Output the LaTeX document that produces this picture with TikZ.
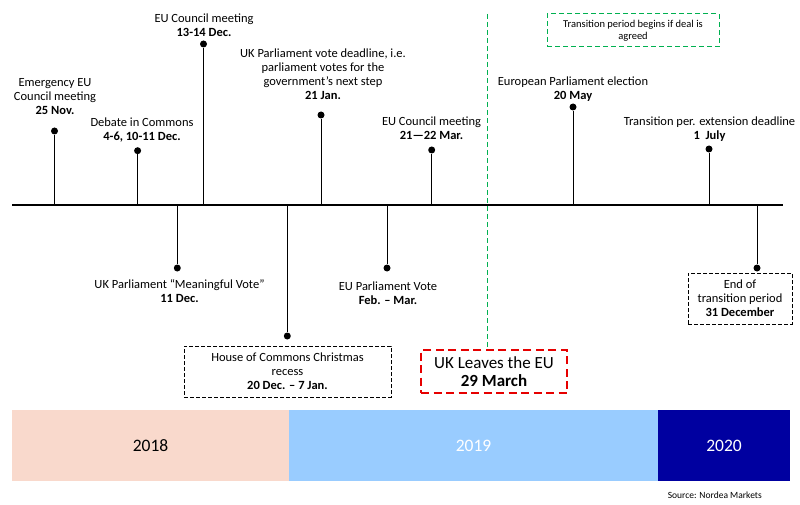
\documentclass[tikz,border=0pt]{standalone}
\usepackage{fontspec}
\setmainfont{Carlito}
\usepackage{tikz}
\usetikzlibrary{positioning}
\definecolor{year18}{RGB}{249,217,204}
\definecolor{year19}{RGB}{153,204,255}
\definecolor{year20}{RGB}{0,0,160}
\definecolor{splitgreen}{RGB}{0,176,80}
\definecolor{leavered}{RGB}{230,0,0}

\begin{document}
\begin{tikzpicture}[
    x=1pt, y=-1pt,
    lbl/.style={align=center, inner sep=0pt, font=\fontsize{12.5}{14}\selectfont},
    dot/.style={circle, fill=black, inner sep=0pt, minimum size=7pt},
    stem/.style={line width=1pt},
    dashbox/.style={draw, dash pattern=on 4pt off 2pt, line width=1pt, align=center, inner sep=0pt, font=\fontsize{12.5}{14}\selectfont},
    yearbox/.style={minimum height=71pt, inner sep=0pt, font=\fontsize{17.5}{20}\selectfont}
]
    \useasboundingbox (0,0) rectangle (800,505);

    \coordinate (axL) at (12,205);
    \coordinate (axR) at (783,205);
    \draw[line width=1.3pt] (axL) -- (axR);

    \foreach \n/\x/\y in {dnov/54.5/131, ddeb/137.6/150.7, dcou/203.5/44, djan/321/115, dmar/431.7/150,
                          dmay/573/107, djul/709/149, dmv/177.3/268, drec/287.3/336, dfeb/387/268, dend/757/268} {
        \node[dot] (\n) at (\x,\y) {};
        \draw[stem] (axL -| \n) -- (\n);
    }

    \node[lbl] (lnov) at (55,96.5) {Emergency EU\\Council meeting\\\textbf{25 Nov.}};
    \node[lbl] (ldeb) at (142,130) {Debate in Commons\\\textbf{4-6, 10-11 Dec.}};
    \node[lbl] (lcou) at (204,25) {EU Council meeting\\\textbf{13-14 Dec.}};
    \node[lbl] (ljan) at (323,74) {UK Parliament vote deadline, i.e.\\parliament votes for the\\government’s next step\\\textbf{21 Jan.}};
    \node[lbl] (lmar) at (431.5,128) {EU Council meeting\\\textbf{21---22 Mar.}};
    \node[lbl] (lmay) at (573,89) {European Parliament election\\\textbf{20 May}};
    \node[lbl] (ljul) at (709.5,129) {Transition per. extension deadline\\\textbf{1\ \ July}};
    \node[lbl] (lmv) at (179.5,291) {UK Parliament “Meaningful Vote”\\\textbf{11 Dec.}};
    \node[lbl] (lfeb) at (388,293) {EU Parliament Vote\\\textbf{Feb. -- Mar.}};

    \node[dashbox, minimum width=207pt, minimum height=51pt] (recess) at (287.5,371.5) {House of Commons Christmas\\recess\\\textbf{20 Dec. -- 7 Jan.}};
    \node[dashbox, minimum width=104pt, minimum height=51pt] (endtp) at (740,298.5) {End of\\transition period\\\textbf{31 December}};

    \node[draw=leavered, dash pattern=on 8pt off 4.5pt, line width=2.5pt, minimum width=146pt, minimum height=43pt,
          align=center, inner sep=0pt, font=\fontsize{17}{18.5}\selectfont] (leave) at (494,371.5) {UK Leaves the EU\\\textbf{29 March}};
    \node[draw=splitgreen, dash pattern=on 5pt off 3pt, line width=1pt, minimum width=172pt, minimum height=33pt,
          align=center, inner sep=0pt, font=\fontsize{10.5}{12}\selectfont] (deal) at (633,30.5) {Transition period begins if deal is\\agreed};

    \coordinate (splitT) at (487,14);
    \draw[splitgreen, dash pattern=on 5pt off 3pt, line width=1pt] (splitT) -- (leave.north -| splitT);

    \node[yearbox, fill=year18, minimum width=277pt] (y2018) at (150.5,445.5) {2018};
    \node[yearbox, fill=year19, minimum width=369pt, text=white] (y2019) at (473.5,445.5) {2019};
    \node[yearbox, fill=year20, minimum width=132pt, text=white] (y2020) at (724,445.5) {2020};

    \node[anchor=east, inner sep=0pt, font=\fontsize{9.5}{11}\selectfont] (src) at (762,495) {Source: Nordea Markets};
\end{tikzpicture}
\end{document}
